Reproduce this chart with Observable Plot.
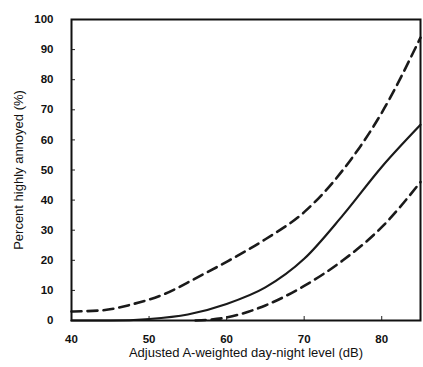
<!DOCTYPE html>
<html>
<head>
<meta charset="utf-8">
<script src="https://cdn.jsdelivr.net/npm/d3@7"></script>
<script src="https://cdn.jsdelivr.net/npm/@observablehq/plot@0.6"></script>
<style>
  html, body { margin: 0; padding: 0; background: #fff; }
  #chart svg { display: block; }
</style>
</head>
<body>
<div id="chart"></div>
<script>
const levels = [40, 45, 50, 55, 60, 65, 70, 75, 80, 85];
const meanCurve = [0, 0, 0.5, 2, 5.5, 11, 20.5, 35, 51, 65];
const upperLevels = [40, 44, 48, 52, 56, 60, 65, 70, 75, 80, 85];
const upperBound = [3, 3.4, 5.5, 8.8, 14, 19.5, 27, 36, 50, 69, 94];
const lowerLevels = [56, 60, 65, 70, 75, 80, 85];
const lowerBound = [0, 1, 5, 11.5, 20, 31, 46];
const xTicks = [40, 50, 60, 70, 80];
const yTicks = [0, 10, 20, 30, 40, 50, 60, 70, 80, 90, 100];

const mean = levels.map((x, i) => ({x, y: meanCurve[i]}));
const upper = upperLevels.map((x, i) => ({x, y: upperBound[i]}));
const lower = lowerLevels.map((x, i) => ({x, y: lowerBound[i]}));

const chart = Plot.plot({
  width: 423,
  height: 367,
  marginLeft: 71,
  marginTop: 19,
  marginRight: 3,
  marginBottom: 47,
  style: {fontFamily: "Liberation Sans, Arial, sans-serif", background: "#fff", color: "#111"},
  x: {domain: [40, 85]},
  y: {domain: [0, 100]},
  marks: [
    Plot.line(lower, {x: "x", y: "y", stroke: "#1a1a1a", strokeWidth: 2.6, strokeDasharray: "10,6", curve: "monotone-x"}),
    Plot.line(upper, {x: "x", y: "y", stroke: "#1a1a1a", strokeWidth: 2.6, strokeDasharray: "10,6", curve: "monotone-x"}),
    Plot.line(mean, {x: "x", y: "y", stroke: "#1a1a1a", strokeWidth: 2.2, curve: "monotone-x"}),
    Plot.axisX({ticks: xTicks, tickSize: 4, dy: -4, text: null, label: null, stroke: "#222"}),
    Plot.axisY({ticks: yTicks, tickSize: 4, dx: 4, text: null, label: null, stroke: "#222"}),
    Plot.axisX({ticks: xTicks, tickSize: 0, tickPadding: 14, fontSize: 11.5, fontWeight: "bold", label: null}),
    Plot.axisY({ticks: yTicks, tickSize: 0, tickPadding: 18, fontSize: 11.5, fontWeight: "bold", label: null}),
    Plot.text(["Adjusted A-weighted day-night level (dB)"], {frameAnchor: "bottom", dy: 36, fontSize: 13, fill: "#111"}),
    Plot.text(["Percent highly annoyed (%)"], {frameAnchor: "left", dx: -53, rotate: -90, textAnchor: "middle", fontSize: 13, fill: "#111"}),
    Plot.frame({stroke: "#111", strokeWidth: 2})
  ]
});
document.getElementById("chart").append(chart);
</script>
</body>
</html>
